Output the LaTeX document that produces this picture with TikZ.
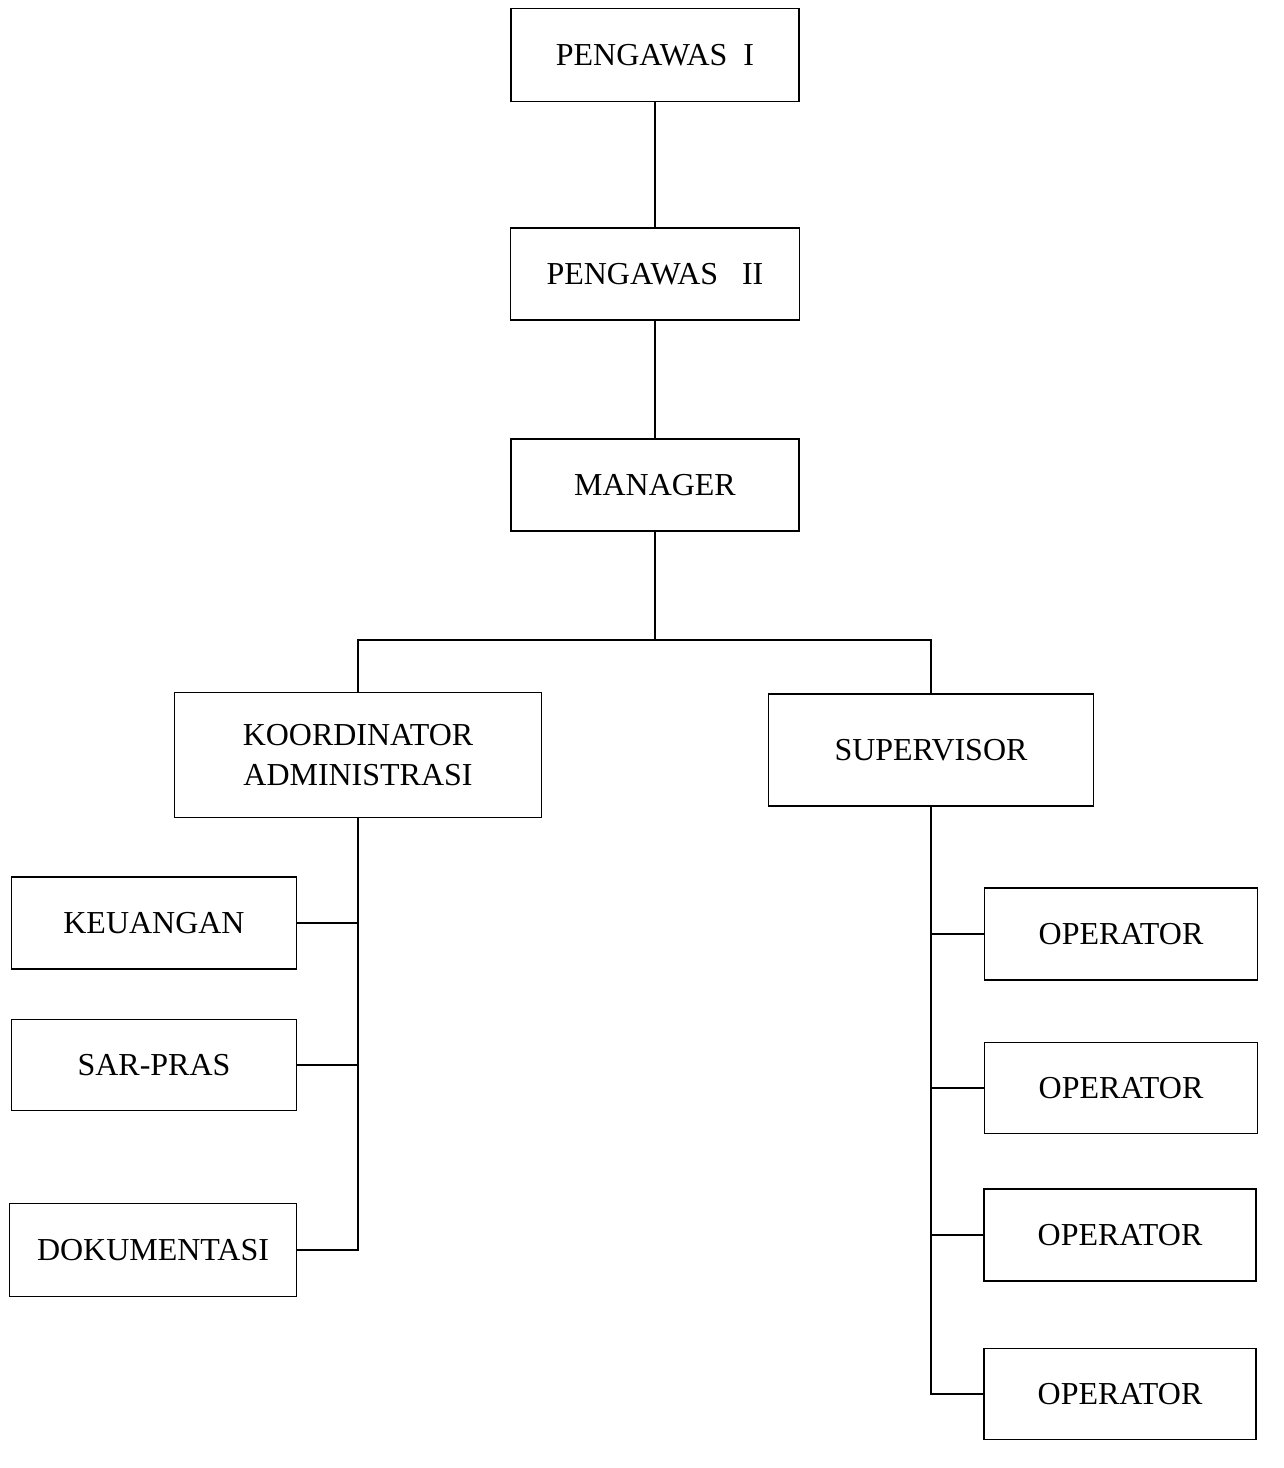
\documentclass[tikz,border=0pt]{standalone}
\usepackage{fontspec}
\setmainfont{Liberation Serif}
\usepackage{tikz}
\usetikzlibrary{positioning}

\tikzset{
    unit/.style={draw, line width=1pt, inner sep=0pt, align=center,
                 font=\fontsize{18.2}{22.5}\selectfont},
    link/.style={line width=1pt}
}

\begin{document}
\begin{tikzpicture}[x=0.02cm, y=-0.02cm]
    \useasboundingbox (0,0) rectangle (1284,1468);

    % top of the chart
    \node [unit, minimum width=5.76cm, minimum height=1.86cm] (pengawasA) at (655,55) {PENGAWAS\ \ I};
    \node [unit, minimum width=5.78cm, minimum height=1.84cm] (pengawasB) at (655,274) {PENGAWAS\ \ \ II};
    \node [unit, minimum width=5.76cm, minimum height=1.84cm] (manager) at (655,485) {MANAGER};

    % second level
    \node [unit, minimum width=7.34cm, minimum height=2.5cm] (koordinator) at (358,755) {KOORDINATOR\\ADMINISTRASI};
    \node [unit, minimum width=6.5cm, minimum height=2.24cm] (supervisor) at (931,750) {SUPERVISOR};

    % administrasi staff
    \node [unit, minimum width=5.7cm, minimum height=1.84cm] (keuangan) at (154,923) {KEUANGAN};
    \node [unit, minimum width=5.7cm, minimum height=1.82cm] (sarpras) at (154,1065) {SAR-PRAS};
    \node [unit, minimum width=5.74cm, minimum height=1.86cm] (dokumentasi) at (153,1250) {DOKUMENTASI};

    % operators
    \node [unit, minimum width=5.46cm, minimum height=1.84cm] (operatorA) at (1121,934) {OPERATOR};
    \node [unit, minimum width=5.46cm, minimum height=1.82cm] (operatorB) at (1121,1088) {OPERATOR};
    \node [unit, minimum width=5.44cm, minimum height=1.84cm] (operatorC) at (1120,1235) {OPERATOR};
    \node [unit, minimum width=5.44cm, minimum height=1.82cm] (operatorD) at (1120,1394) {OPERATOR};

    \coordinate (bar) at (655,640);

    \draw [link] (pengawasA) -- (pengawasB);
    \draw [link] (pengawasB) -- (manager);
    \draw [link] (manager.south) -- (bar);
    \draw [link] (koordinator.north) |- (bar) -| (supervisor.north);

    \draw [link] (koordinator.south) |- (dokumentasi.east);
    \draw [link] (keuangan.east) -- (keuangan.east -| koordinator.south);
    \draw [link] (sarpras.east) -- (sarpras.east -| koordinator.south);

    \draw [link] (supervisor.south) |- (operatorD.west);
    \draw [link] (operatorA.west) -- (operatorA.west -| supervisor.south);
    \draw [link] (operatorB.west) -- (operatorB.west -| supervisor.south);
    \draw [link] (operatorC.west) -- (operatorC.west -| supervisor.south);
\end{tikzpicture}
\end{document}
